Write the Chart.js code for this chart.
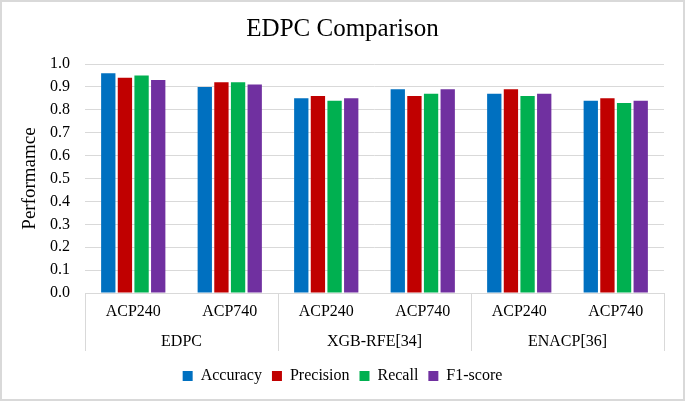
<!DOCTYPE html>
<html>
<head>
<meta charset="utf-8">
<script src="https://cdn.jsdelivr.net/npm/chart.js@4.4.1/dist/chart.umd.min.js"></script>
<style>
  html, body { margin: 0; padding: 0; background: #fff; }
  #wrap { width: 685px; height: 401px; position: relative; }
</style>
</head>
<body>
<div id="wrap"><canvas id="c" width="685" height="401"></canvas></div>
<script>
const categories = ['ACP240', 'ACP740', 'ACP240', 'ACP740', 'ACP240', 'ACP740'];
const groups = ['EDPC', 'XGB-RFE[34]', 'ENACP[36]'];
const accuracy  = [0.96, 0.90, 0.85, 0.89, 0.87, 0.84];
const precision = [0.94, 0.92, 0.86, 0.86, 0.89, 0.85];
const recall    = [0.95, 0.92, 0.84, 0.87, 0.86, 0.83];
const f1score   = [0.93, 0.91, 0.85, 0.89, 0.87, 0.84];
const yTicks = [0, 0.1, 0.2, 0.3, 0.4, 0.5, 0.6, 0.7, 0.8, 0.9, 1.0];

const FONT = "'Liberation Serif', 'Times New Roman', serif";

const groupPlugin = {
  id: 'groupAxis',
  beforeDraw(chart) {
    const ctx = chart.ctx;
    ctx.save();
    ctx.fillStyle = '#fff';
    ctx.fillRect(0, 0, chart.width, chart.height);
    ctx.strokeStyle = '#d9d9d9';
    ctx.lineWidth = 2;
    ctx.strokeRect(1, 1, chart.width - 2, chart.height - 2);
    ctx.restore();
  },
  afterDraw(chart) {
    const ctx = chart.ctx;
    const x = chart.scales.x;
    const area = chart.chartArea;
    const perGroup = categories.length / groups.length;
    ctx.save();
    ctx.strokeStyle = '#d9d9d9';
    ctx.lineWidth = 1;
    const bounds = [area.left];
    for (let g = 1; g < groups.length; g++) {
      const a = x.getPixelForValue(g * perGroup - 1);
      const b = x.getPixelForValue(g * perGroup);
      bounds.push((a + b) / 2);
    }
    bounds.push(area.right);
    bounds.forEach(px => {
      ctx.beginPath();
      ctx.moveTo(Math.round(px) + 0.5, area.bottom);
      ctx.lineTo(Math.round(px) + 0.5, area.bottom + 58);
      ctx.stroke();
    });
    ctx.fillStyle = '#000';
    ctx.font = '16px ' + FONT;
    ctx.textAlign = 'center';
    ctx.textBaseline = 'middle';
    groups.forEach((name, g) => {
      const a = x.getPixelForValue(g * perGroup);
      const b = x.getPixelForValue(g * perGroup + perGroup - 1);
      ctx.fillText(name, (a + b) / 2, area.bottom + 49);
    });
    ctx.restore();
  }
};

new Chart(document.getElementById('c'), {
  type: 'bar',
  data: {
    labels: categories,
    datasets: [
      { label: 'Accuracy',  data: accuracy,  backgroundColor: '#0070C0' },
      { label: 'Precision', data: precision, backgroundColor: '#C00000' },
      { label: 'Recall',    data: recall,    backgroundColor: '#00B050' },
      { label: 'F1-score',  data: f1score,   backgroundColor: '#7030A0' }
    ]
  },
  options: {
    responsive: false,
    animation: false,
    devicePixelRatio: 1,
    layout: { padding: { left: 0, right: 0, top: 0, bottom: 7 } },
    datasets: { bar: { categoryPercentage: 0.69, barPercentage: 0.86 } },
    plugins: {
      title: {
        display: true,
        text: 'EDPC Comparison',
        color: '#000',
        font: { family: FONT, size: 25, weight: 'normal' },
        padding: { top: 14, bottom: 20 }
      },
      legend: {
        position: 'bottom',
        labels: {
          color: '#000',
          font: { family: FONT, size: 16 },
          boxWidth: 10,
          boxHeight: 10,
          padding: 10
        }
      },
      tooltip: { enabled: false }
    },
    scales: {
      x: {
        grid: { display: false, drawTicks: false },
        border: { display: true, color: '#d9d9d9', width: 1 },
        ticks: { color: '#000', font: { family: FONT, size: 16 }, padding: 9, maxRotation: 0 },
        afterFit(s) { s.height = 65; }
      },
      y: {
        min: 0,
        max: 1,
        afterBuildTicks(s) { s.ticks = yTicks.map(v => ({ value: v })); },
        ticks: {
          color: '#000',
          font: { family: FONT, size: 16 },
          padding: 15,
          callback: v => Number(v).toFixed(1)
        },
        grid: { color: '#d9d9d9', lineWidth: 1, drawTicks: false },
        border: { display: false },
        title: {
          display: true,
          text: 'Performamce',
          color: '#000',
          font: { family: FONT, size: 19 },
          padding: { top: 19, bottom: 4 }
        },
        afterFit(s) { s.width = 85; }
      },
      yRight: {
        position: 'right',
        min: 0,
        max: 1,
        ticks: { display: false },
        grid: { display: false, drawTicks: false },
        border: { display: false },
        afterFit(s) { s.width = 21; }
      }
    }
  },
  plugins: [groupPlugin]
});
</script>
</body>
</html>
